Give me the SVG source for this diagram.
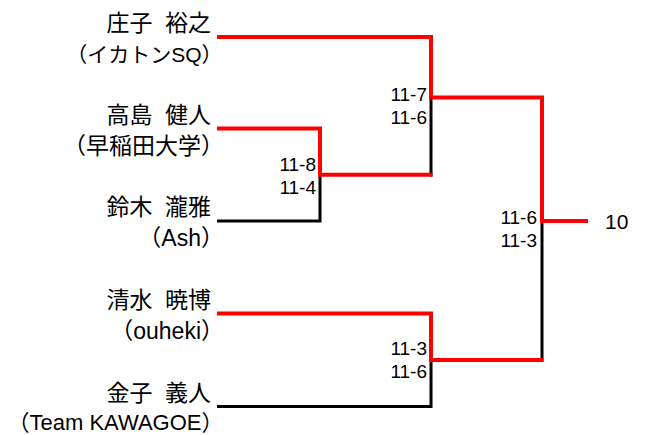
<svg xmlns="http://www.w3.org/2000/svg" width="649" height="435" viewBox="0 0 649 435">
<style>
text{font-family:"Liberation Sans","Noto Sans CJK JP",sans-serif;fill:#000}
.nm{font-size:23px;text-anchor:end;word-spacing:6px}
.tm{font-size:23px;text-anchor:end}
.tk{font-size:21px}
.tw{font-size:22px}
.sc{font-size:19px;text-anchor:end}
.res{font-size:21px}
.win{stroke:#ff0000;stroke-width:4;fill:none;stroke-linejoin:miter}
.lose{stroke:#000;stroke-width:3;fill:none;stroke-linejoin:miter}
</style>
<rect width="649" height="435" fill="#fff"/>
<g id="connectors">
<path class="lose" d="M217,221 H320 V174.75"/>
<path class="lose" d="M431,97.5 V176.5"/>
<path class="lose" d="M217,406.5 H431 V360"/>
<path class="lose" d="M542,221 V361.5"/>
<path class="win" d="M217,37 H431 V97.5 H542 V221 H588"/>
<path class="win" d="M217,128.5 H320 V174.75 H432.5"/>
<path class="win" d="M217,313.5 H431 V360 H543.5"/>
</g>
<g id="player-shoji">
<text class="nm" x="211" y="31">庄子 裕之</text>
<text class="tm tk" x="222.5" y="62">（イカトンSQ）</text>
</g>
<g id="player-takashima">
<text class="nm" x="211" y="122.5">高島 健人</text>
<text class="tm" x="224" y="153.5">（早稲田大学）</text>
</g>
<g id="player-suzuki">
<text class="nm" x="211" y="215">鈴木 瀧雅</text>
<text class="tm" x="224" y="246">（Ash）</text>
</g>
<g id="player-shimizu">
<text class="nm" x="211" y="307.5">清水 暁博</text>
<text class="tm" x="224" y="338.5">（ouheki）</text>
</g>
<g id="player-kaneko">
<text class="nm" x="211" y="400.5">金子 義人</text>
<text class="tm tw" x="223.5" y="430">（Team KAWAGOE）</text>
</g>
<g id="score-match1">
<text class="sc" x="316" y="170.5">11-8</text>
<text class="sc" x="316" y="193.5">11-4</text>
</g>
<g id="score-match2">
<text class="sc" x="427" y="100.5">11-7</text>
<text class="sc" x="427" y="123.5">11-6</text>
</g>
<g id="score-match3">
<text class="sc" x="427" y="354.5">11-3</text>
<text class="sc" x="427" y="377.5">11-6</text>
</g>
<g id="score-final">
<text class="sc" x="537" y="223.5">11-6</text>
<text class="sc" x="537" y="247">11-3</text>
</g>
<g id="result">
<text class="res" x="605" y="229">10</text>
</g>
</svg>
